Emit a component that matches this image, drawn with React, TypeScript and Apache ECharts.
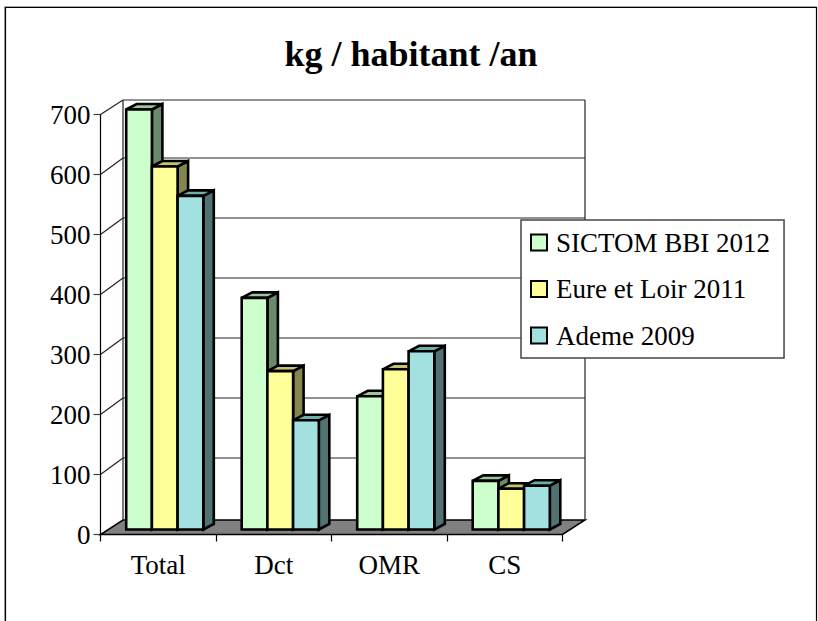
import React, { useEffect, useRef } from "react";
import * as echarts from "echarts";

const categories = ["Total", "Dct", "OMR", "CS"];
const seriesNames = ["SICTOM BBI 2012", "Eure et Loir 2011", "Ademe 2009"];
const sictom = [700, 386, 222, 81];
const eure = [605, 264, 267, 68];
const ademe = [556, 182, 297, 73];
const seriesValues = [sictom, eure, ademe];
const yTicks = [0, 100, 200, 300, 400, 500, 600, 700];
const frontColors = ["#CCFFCC", "#FFFF99", "#A3E0E0"];
const topColors = ["#9DC49D", "#C4C46E", "#70ADAD"];
const sideColors = ["#6B8A6B", "#85854F", "#507272"];

const DEPTH_X = 22.5;
const DEPTH_Y = 14.5;
const MID_GRID_EXTRA = 2;
const BAR_W = 25.7;
const BAR_SHIFT = 6.5;
const BAR_LIFT = 5;
const BAR_DX = 10.5;
const BAR_DY = 5.5;

function barItem(s: number) {
  return (_params: any, api: any) => {
    const idx = api.value(0);
    const top = api.coord([idx, api.value(1)]);
    const base = api.coord([idx, 0]);
    const x0 = base[0] + BAR_SHIFT + (s - 1.5) * BAR_W;
    const x1 = x0 + BAR_W;
    const y0 = base[1] - BAR_LIFT;
    const y1 = top[1] - BAR_LIFT;
    const border = { stroke: "#000", lineWidth: 2.6, lineJoin: "miter" };
    return {
      type: "group",
      children: [
        {
          type: "polygon",
          shape: { points: [[x1, y0], [x1 + BAR_DX, y0 - BAR_DY], [x1 + BAR_DX, y1 - BAR_DY], [x1, y1]] },
          style: { fill: sideColors[s], ...border },
        },
        {
          type: "polygon",
          shape: { points: [[x0, y1], [x1, y1], [x1 + BAR_DX, y1 - BAR_DY], [x0 + BAR_DX, y1 - BAR_DY]] },
          style: { fill: topColors[s], ...border },
        },
        {
          type: "rect",
          shape: { x: x0, y: y1, width: BAR_W, height: y0 - y1 },
          style: { fill: frontColors[s], ...border },
        },
      ],
    };
  };
}

function wallItem(params: any, api: any) {
  const t = api.value(1);
  const p = api.coord([0, t]);
  const cs = params.coordSys;
  const xl = cs.x;
  const xr = cs.x + cs.width;
  const y = p[1];
  const last = yTicks[yTicks.length - 1];
  const d = t === 0 || t === last ? DEPTH_Y : DEPTH_Y + MID_GRID_EXTRA;
  const children: any[] = [];
  if (t === 0) {
    children.push({
      type: "polygon",
      shape: { points: [[xl, y], [xr, y], [xr + DEPTH_X, y - d], [xl + DEPTH_X, y - d]] },
      style: { fill: "#808080", stroke: "#000", lineWidth: 1.5 },
    });
  } else {
    children.push({
      type: "line",
      shape: { x1: xl + DEPTH_X, y1: y - d, x2: xr + DEPTH_X, y2: y - d },
      style: { stroke: "#6e6e6e", lineWidth: 1.5 },
    });
    children.push({
      type: "line",
      shape: { x1: xl, y1: y, x2: xl + DEPTH_X, y2: y - d },
      style: { stroke: "#222", lineWidth: 1.2 },
    });
  }
  if (t === last) {
    const by = api.coord([0, 0])[1] - DEPTH_Y;
    children.push({
      type: "line",
      shape: { x1: xl + DEPTH_X, y1: y - d, x2: xl + DEPTH_X, y2: by },
      style: { stroke: "#222", lineWidth: 1.2 },
    });
    children.push({
      type: "line",
      shape: { x1: xr + DEPTH_X, y1: y - d, x2: xr + DEPTH_X, y2: by },
      style: { stroke: "#222", lineWidth: 1.2 },
    });
  }
  return { type: "group", children };
}

export default function App() {
  const ref = useRef<HTMLDivElement>(null);
  useEffect(() => {
    const chart = echarts.init(ref.current!, undefined, { renderer: "svg" });
    chart.setOption({
      animation: false,
      backgroundColor: "#fff",
      textStyle: { fontFamily: "Liberation Serif" },
      title: {
        text: "kg / habitant /an",
        left: 406,
        top: 31,
        textAlign: "center",
        textStyle: { fontFamily: "Liberation Serif", fontWeight: "bold", fontSize: 36, color: "#000" },
      },
      graphic: [
        { type: "rect", z: -10, silent: true, shape: { x: 4.5, y: 6.5, width: 812, height: 700 }, style: { fill: "none", stroke: "#aaa", lineWidth: 1 } },
        { type: "rect", z: -9, silent: true, shape: { x: 5.5, y: 7.5, width: 811, height: 700 }, style: { fill: "none", stroke: "#000", lineWidth: 1.2 } },
      ],
      legend: {
        data: seriesNames,
        orient: "vertical",
        left: 521,
        top: 220,
        padding: [9, 14, 9, 9],
        itemWidth: 16,
        itemHeight: 16,
        itemGap: 19.5,
        icon: "rect",
        backgroundColor: "#fff",
        borderColor: "#444",
        borderWidth: 1.5,
        z: 20,
        selectedMode: false,
        textStyle: { fontFamily: "Liberation Serif", fontSize: 27, color: "#000", padding: [0, 0, 0, 4] },
      },
      grid: { left: 100.5, right: 255.5, top: 114.5, bottom: 86.5, containLabel: false },
      xAxis: {
        type: "category",
        data: categories,
        axisLine: { show: true, lineStyle: { color: "#000", width: 1.2 } },
        axisTick: { show: true, length: 7, alignWithLabel: false, lineStyle: { color: "#000", width: 1.2 } },
        axisLabel: { color: "#000", fontSize: 27, margin: 17, fontFamily: "Liberation Serif" },
        splitLine: { show: false },
      },
      yAxis: {
        type: "value",
        min: 0,
        max: 700,
        interval: 100,
        axisLine: { show: true, lineStyle: { color: "#000", width: 1.2 } },
        axisTick: { show: true, length: 7, lineStyle: { color: "#444", width: 1.2 } },
        axisLabel: { color: "#000", fontSize: 27, margin: 10, fontFamily: "Liberation Serif" },
        splitLine: { show: false },
      },
      series: [
        {
          type: "custom",
          name: "wall",
          z: 1,
          silent: true,
          renderItem: wallItem,
          encode: { x: 0, y: 1 },
          data: yTicks.map((t) => [0, t]),
        },
        ...seriesNames.map((name, s) => ({
          type: "custom",
          name,
          z: 3 + s,
          silent: true,
          renderItem: barItem(s),
          encode: { x: 0, y: 1 },
          itemStyle: { color: frontColors[s], borderColor: "#000", borderWidth: 2 },
          data: seriesValues[s].map((v, i) => [i, v]),
        })),
      ],
    });
    return () => chart.dispose();
  }, []);
  return <div ref={ref} style={{ position: "fixed", left: 0, top: 0, width: 818, height: 621 }} />;
}
